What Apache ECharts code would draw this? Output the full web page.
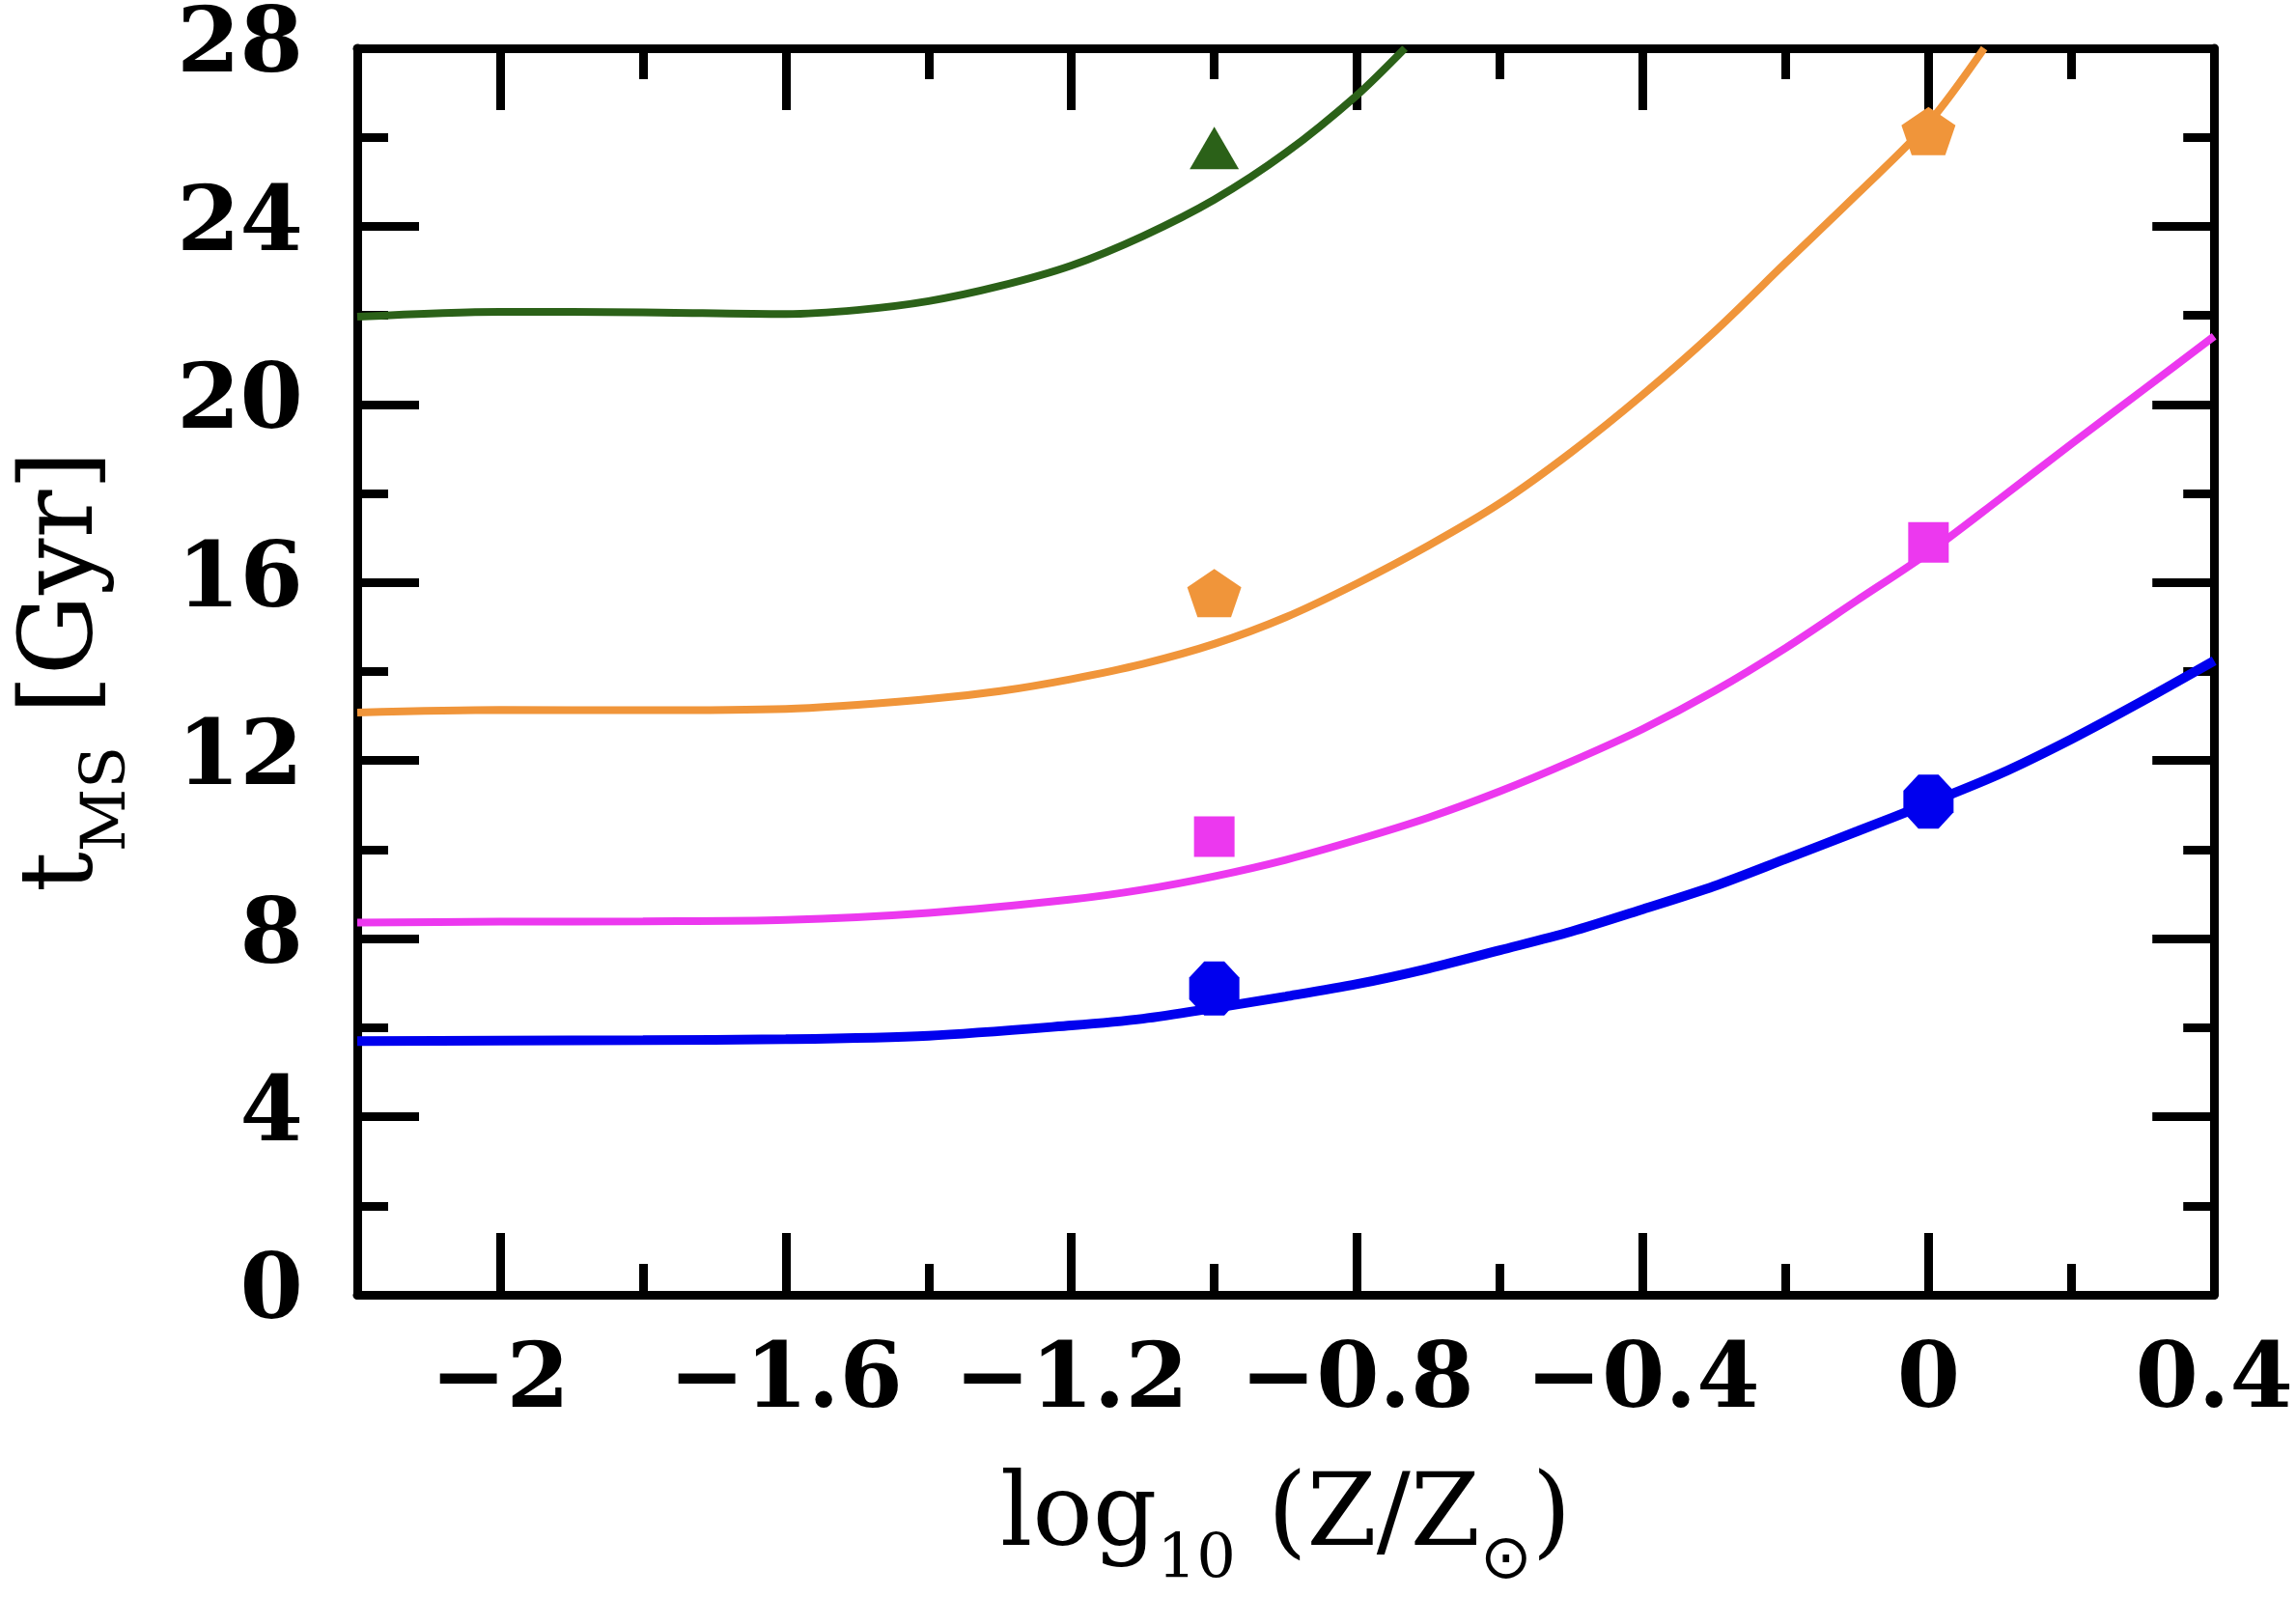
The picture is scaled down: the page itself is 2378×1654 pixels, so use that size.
<!DOCTYPE html>
<html>
<head>
<meta charset="utf-8">
<script src="https://cdn.jsdelivr.net/npm/echarts@6/dist/echarts.min.js"></script>
<style>
  html, body { margin: 0; padding: 0; background: #fff; }
  #chart { width: 2378px; height: 1654px; }
</style>
</head>
<body>
<div id="chart"></div>
<script>
// 轴刻度
const xMajor = [-2, -1.6, -1.2, -0.8, -0.4, 0, 0.4];
const xMinor = [-2.2, -1.8, -1.4, -1.0, -0.6, -0.2, 0.2];

// 曲线 (log10 Z/Zsun, t_MS Gyr)
const greenCurve = [[-2.2, 21.97], [-2.0, 22.08], [-1.8, 22.07], [-1.6, 22.03], [-1.5, 22.12], [-1.4, 22.32],
  [-1.3, 22.66], [-1.2, 23.12], [-1.1, 23.78], [-1.0, 24.6], [-0.9, 25.65], [-0.8, 26.95], [-0.733, 28.0]];
const orangeCurve = [[-2.2, 13.08], [-2.0, 13.14], [-1.8, 13.13], [-1.6, 13.16], [-1.4, 13.38], [-1.3, 13.56],
  [-1.2, 13.83], [-1.1, 14.17], [-1.0, 14.62], [-0.9, 15.22], [-0.8, 15.98], [-0.7, 16.83], [-0.6, 17.78],
  [-0.5, 18.93], [-0.4, 20.22], [-0.3, 21.63], [-0.2, 23.18], [-0.1, 24.72], [0.0, 26.32], [0.078, 28.0]];
const magentaCurve = [[-2.2, 8.36], [-2.0, 8.38], [-1.8, 8.39], [-1.6, 8.42], [-1.4, 8.58], [-1.2, 8.88],
  [-1.1, 9.1], [-1.0, 9.4], [-0.9, 9.77], [-0.8, 10.22], [-0.7, 10.72], [-0.6, 11.31], [-0.5, 11.98],
  [-0.4, 12.71], [-0.3, 13.56], [-0.2, 14.53], [-0.1, 15.6], [0.0, 16.67], [0.1, 17.88], [0.2, 19.11],
  [0.3, 20.32], [0.4, 21.53]];
const blueCurve = [[-2.2, 5.70], [-2.0, 5.71], [-1.8, 5.72], [-1.6, 5.74], [-1.4, 5.82], [-1.2, 6.05],
  [-1.1, 6.2], [-1.0, 6.44], [-0.9, 6.7], [-0.8, 6.98], [-0.7, 7.33], [-0.6, 7.74], [-0.5, 8.16],
  [-0.4, 8.66], [-0.3, 9.18], [-0.2, 9.79], [-0.1, 10.41], [0.0, 11.04], [0.1, 11.7], [0.2, 12.48],
  [0.3, 13.34], [0.4, 14.24]];

// 点
const greenPts = [[-1.0, 25.76]];
const orangePts = [[-1.0, 15.76], [0.0, 26.14]];
const magentaPts = [[-1.0, 10.29], [0.0, 16.9]];
const bluePts = [[-1.0, 6.88], [0.0, 11.08]];

const GREEN = '#2b6118', ORANGE = '#f0953a', MAGENTA = '#ec38ef', BLUE = '#0000ee';
const SERIF = '"DejaVu Serif", "Liberation Serif", serif';
const PENTAGON = 'path://M50,0 L100,38 L81,100 L19,100 L0,38 Z';
const OCTAGON = 'path://M30,0 L70,0 L100,30 L100,70 L70,100 L30,100 L0,70 L0,30 Z';

function fmtX(v) {
  let s = String(Math.round(Math.abs(v) * 10) / 10);
  return (v < -1e-9 ? '\u2212' : '') + s;
}

const tickLabel = { fontFamily: SERIF, fontWeight: 'bold', fontSize: 94, color: '#000' };
const blackLine = { color: '#000', width: 9 };
const nameRich = {
  m: { fontFamily: SERIF, fontSize: 104, lineHeight: 104, verticalAlign: 'top', color: '#000' },
  s: { fontFamily: SERIF, fontSize: 64, verticalAlign: 'top', padding: [64, 0, 0, 0], color: '#000' },
  o: { fontFamily: '"DejaVu Sans", ' + SERIF, fontSize: 64, verticalAlign: 'top', padding: [64, 0, 0, 0], color: '#000' }
};

function xAx(pos, ticks, len, showLine, labels) {
  return {
    type: 'value', position: pos, min: -2.2, max: 0.4,
    axisLine: { show: showLine, onZero: false, lineStyle: blackLine },
    axisTick: { show: true, inside: true, length: len, customValues: ticks, lineStyle: blackLine },
    axisLabel: labels ? Object.assign({ show: true, margin: 45, customValues: xMajor, formatter: fmtX }, tickLabel) : { show: false },
    splitLine: { show: false }
  };
}

function yAx(pos, labels) {
  return {
    type: 'value', position: pos, min: 0, max: 28, interval: 4,
    axisLine: { show: true, onZero: false, lineStyle: blackLine },
    axisTick: { show: true, inside: true, length: 64, lineStyle: blackLine },
    minorTick: { show: true, splitNumber: 2, length: 32, lineStyle: blackLine },
    axisLabel: labels ? Object.assign({ show: true, margin: 56 }, tickLabel) : { show: false },
    splitLine: { show: false }, minorSplitLine: { show: false }
  };
}

const chart = echarts.init(document.getElementById('chart'), null, { renderer: 'canvas' });

const xMain = xAx('bottom', xMajor, 64, true, true);
xMain.name = '{m|log}{s|10}{m| (Z/Z}{o|\u2299}{m|)}';
xMain.nameLocation = 'middle';
xMain.nameGap = 180;
xMain.nameTextStyle = { rich: nameRich };

const yMain = yAx('left', true);
yMain.name = '{m|t}{s|MS}{m| [Gyr]}';
yMain.nameLocation = 'middle';
yMain.nameGap = 226;
yMain.nameTextStyle = { rich: nameRich };

function line(data, color, w) {
  return { type: 'line', data: data, smooth: 0.3, showSymbol: false, symbol: 'none',
    lineStyle: { color: color, width: w }, itemStyle: { color: color }, z: 2, animation: false };
}
function pts(data, color, symbol, size) {
  return { type: 'scatter', data: data, symbol: symbol, symbolSize: size,
    itemStyle: { color: color, opacity: 1 }, z: 3, animation: false };
}

chart.setOption({
  backgroundColor: '#fff',
  animation: false,
  grid: { left: 370, right: 80, top: 50, bottom: 312 },
  xAxis: [
    xMain,
    xAx('bottom', xMinor, 32, false, false),
    xAx('top', xMajor, 64, true, false),
    xAx('top', xMinor, 32, false, false)
  ],
  yAxis: [yMain, yAx('right', false)],
  series: [
    line(greenCurve, GREEN, 8),
    line(orangeCurve, ORANGE, 8),
    line(magentaCurve, MAGENTA, 8),
    line(blueCurve, BLUE, 10),
    pts(greenPts, GREEN, 'triangle', [51, 44]),
    pts(orangePts, ORANGE, PENTAGON, [56, 50]),
    pts(magentaPts, MAGENTA, 'rect', [42, 42]),
    pts(bluePts, BLUE, OCTAGON, [52, 56])
  ]
});
</script>
</body>
</html>
